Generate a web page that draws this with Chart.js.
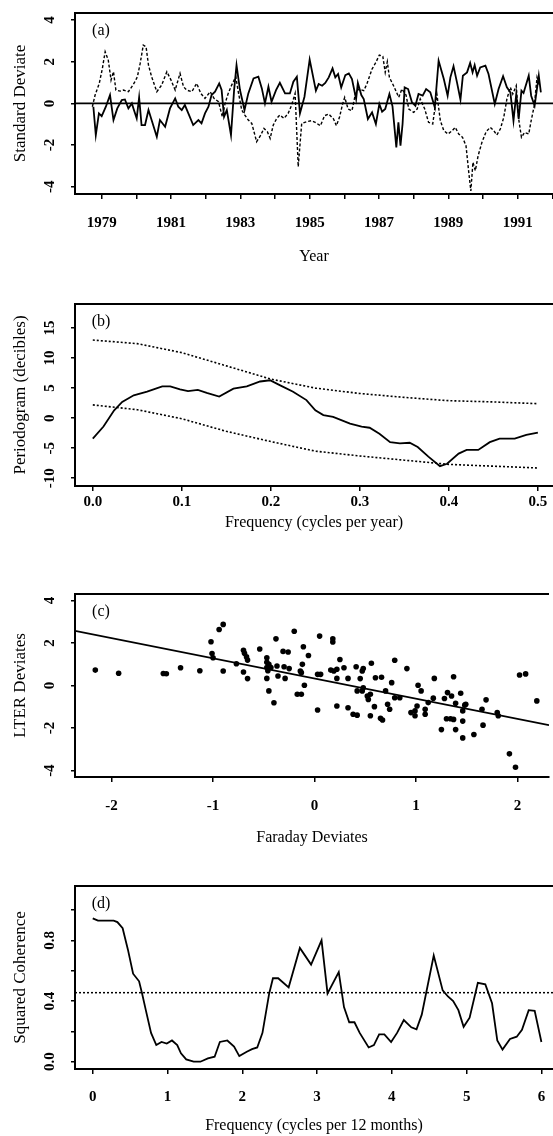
<!DOCTYPE html>
<html>
<head>
<meta charset="utf-8">
<script src="https://cdn.jsdelivr.net/npm/chart.js@4.4.1/dist/chart.umd.min.js"></script>
<style>
  html, body { margin: 0; padding: 0; background: #fff; }
  body { width: 553px; height: 1136px; position: relative; overflow: hidden; }
  .panel { position: absolute; left: 0; }
</style>
</head>
<body>
<div class="panel" style="top:0px"><canvas id="chartA" width="553" height="270"></canvas></div>
<div class="panel" style="top:290px"><canvas id="chartB" width="553" height="250"></canvas></div>
<div class="panel" style="top:560px"><canvas id="chartC" width="553" height="290"></canvas></div>
<div class="panel" style="top:860px"><canvas id="chartD" width="553" height="276"></canvas></div>
<script>
// (a) standard deviates, solid and dashed series
var aSolidYears = [1978.76,1978.83,1978.92,1979.00,1979.12,1979.24,1979.34,1979.45,1979.58,1979.67,1979.77,1979.87,1979.93,
  1980.01,1980.08,1980.15,1980.25,1980.35,1980.44,1980.59,1980.68,1980.83,1980.97,1981.12,1981.21,1981.31,1981.40,1981.50,
  1981.64,1981.79,1981.88,1981.98,1982.08,1982.17,1982.27,1982.39,1982.46,1982.53,1982.61,1982.73,1982.82,1982.89,1982.99,
  1983.12,1983.23,1983.38,1983.52,1983.62,1983.71,1983.81,1983.90,1984.03,1984.14,1984.29,1984.43,1984.53,1984.63,1984.72,
  1984.85,1985.00,1985.18,1985.26,1985.36,1985.45,1985.55,1985.66,1985.74,1985.82,1985.91,1986.03,1986.13,1986.22,1986.34,
  1986.39,1986.49,1986.56,1986.68,1986.80,1986.91,1987.01,1987.09,1987.18,1987.30,1987.39,1987.50,1987.56,1987.62,1987.68,
  1987.74,1987.84,1987.95,1988.05,1988.14,1988.26,1988.36,1988.48,1988.61,1988.72,1988.87,1988.98,1989.06,1989.15,1989.25,
  1989.35,1989.42,1989.54,1989.63,1989.70,1989.76,1989.83,1989.92,1990.07,1990.16,1990.34,1990.45,1990.58,1990.69,1990.79,
  1990.88,1990.96,1991.03,1991.11,1991.17,1991.32,1991.39,1991.49,1991.61,1991.67];
var aSolidValues = [-0.16,-1.52,-0.48,-0.61,-0.16,0.40,-0.80,-0.24,0.16,0.19,-0.24,0.00,-0.32,
  -0.72,0.29,-1.04,-1.04,-0.32,-0.80,-1.60,-0.80,-1.12,-0.24,0.24,-0.16,-0.32,-0.08,-0.48,
  -1.04,-0.80,-0.96,-0.48,-0.16,0.40,0.56,0.96,0.64,-0.64,-0.32,-1.52,0.64,1.84,0.64,
  -0.32,0.48,1.20,1.28,0.72,0.00,0.80,0.08,0.64,0.99,0.48,0.48,1.04,1.28,-0.48,
  0.32,2.10,0.61,0.93,0.85,0.98,1.25,1.68,1.25,1.41,0.77,1.36,1.44,1.17,0.21,
  0.98,0.40,0.21,-0.75,-0.43,-0.99,-0.03,-0.40,-0.27,0.45,-0.14,-2.11,-0.91,-2.03,-0.99,
  0.77,0.69,0.05,-0.11,0.45,0.37,0.69,0.53,-0.19,2.05,1.17,0.37,1.25,1.78,1.01,
  0.18,1.33,1.49,1.94,1.49,1.84,1.33,1.73,1.81,1.41,-0.03,0.69,1.30,0.77,0.53,
  -0.83,0.45,-0.75,0.61,0.50,1.33,0.37,-0.11,1.33,0.53];
var aDashedYears = [1978.73,1978.81,1978.93,1979.02,1979.10,1979.19,1979.27,1979.34,1979.41,1979.53,1979.63,1979.77,1979.87,
  1979.96,1980.03,1980.11,1980.20,1980.28,1980.35,1980.44,1980.59,1980.73,1980.88,1981.00,1981.12,1981.26,1981.36,1981.45,
  1981.60,1981.74,1981.86,1981.98,1982.13,1982.24,1982.37,1982.48,1982.56,1982.65,1982.75,1982.87,1982.94,1983.04,1983.13,
  1983.23,1983.33,1983.47,1983.59,1983.68,1983.78,1983.86,1983.95,1984.05,1984.14,1984.26,1984.38,1984.48,1984.58,1984.67,
  1984.77,1984.91,1985.05,1985.16,1985.31,1985.43,1985.55,1985.69,1985.77,1985.86,1985.95,1986.01,1986.11,1986.22,1986.32,
  1986.41,1986.56,1986.65,1986.80,1986.91,1987.01,1987.11,1987.18,1987.24,1987.30,1987.42,1987.57,1987.66,1987.78,1987.86,
  1988.00,1988.10,1988.19,1988.32,1988.43,1988.55,1988.67,1988.77,1988.87,1988.99,1989.11,1989.20,1989.30,1989.41,1989.51,
  1989.59,1989.65,1989.71,1989.78,1989.86,1989.97,1990.09,1990.21,1990.31,1990.40,1990.50,1990.60,1990.69,1990.79,1990.86,
  1990.96,1991.03,1991.11,1991.20,1991.32,1991.39,1991.48,1991.56,1991.63];
var aDashedValues = [-0.16,0.40,0.96,1.68,2.48,2.08,1.12,1.52,0.64,0.59,0.64,0.56,0.80,
  1.04,1.28,1.92,2.80,2.72,1.84,1.28,0.56,0.88,1.52,1.12,0.64,1.44,0.80,0.64,
  0.56,0.96,0.48,0.24,0.56,0.24,0.08,-0.64,0.00,0.48,0.88,1.28,0.56,-0.32,-0.56,
  -0.80,-0.96,-1.84,-1.52,-1.20,-1.36,-1.68,-1.04,-0.72,-0.56,-0.72,-0.48,-0.08,0.48,-3.04,
  -0.96,-0.88,-0.83,-0.91,-1.07,-0.59,-0.51,-0.75,-1.07,-0.67,-0.03,0.29,-0.27,-0.35,0.45,
  0.69,0.61,0.93,1.65,1.97,2.32,2.26,1.49,2.00,1.25,0.85,0.29,0.69,0.40,-0.27,
  -0.43,-0.27,0.21,-0.27,-0.91,-0.99,0.45,-0.83,-1.31,-1.47,-1.31,-1.15,-1.47,-1.63,-2.03,
  -3.31,-4.20,-2.83,-3.23,-2.51,-1.87,-1.36,-1.15,-1.31,-1.52,-1.23,-0.67,0.21,0.77,0.45,
  0.85,-0.75,-1.63,-1.39,-1.47,-0.83,-0.11,1.25,0.85];
var aXTicks = [1979,1980,1981,1982,1983,1984,1985,1986,1987,1988,1989,1990,1991,1992];
var aXLabels = [1979,1981,1983,1985,1987,1989,1991];
var aYTicks = [-4,-2,0,2,4];

// (b) periodogram with confidence band
var bFreq = [0,0.012,0.024,0.033,0.046,0.061,0.078,0.087,0.098,0.107,0.118,0.128,0.142,0.158,0.173,
  0.188,0.199,0.21,0.225,0.24,0.25,0.259,0.27,0.289,0.302,0.311,0.322,0.334,0.345,0.356,
  0.365,0.377,0.39,0.398,0.411,0.42,0.433,0.446,0.457,0.474,0.487,0.5];
var bPeriodogram = [-3.4,-1.4,1.3,2.7,3.8,4.4,5.3,5.3,4.8,4.5,4.7,4.2,3.6,4.9,5.3,
  6.1,6.3,5.5,4.4,3.0,1.3,0.5,0.2,-0.9,-1.4,-1.6,-2.6,-4.0,-4.2,-4.1,
  -4.8,-6.4,-8.0,-7.6,-5.9,-5.3,-5.3,-4.0,-3.4,-3.4,-2.8,-2.4];
var bBandFreq = [0,0.05,0.1,0.15,0.2,0.25,0.3,0.35,0.4,0.45,0.5];
var bUpper = [13,12.4,10.9,8.7,6.5,5.0,4.1,3.45,2.9,2.7,2.4];
var bLower = [2.2,1.4,-0.1,-2.2,-3.9,-5.5,-6.3,-7.0,-7.7,-8.0,-8.3];
var bXTicks = [0,0.1,0.2,0.3,0.4,0.5];
var bYTicks = [-10,-5,0,5,10,15];

// (c) LTER vs Faraday deviates
var cFaraday = [-2.16,-1.93,-1.49,-1.46,-1.32,-1.13,-1.02,-1.01,-1.00,-0.94,-0.90,-0.90,-0.77,-0.70,-0.69,-0.70,
  -0.66,-0.67,-0.66,-0.54,-0.47,-0.47,-0.45,-0.43,-0.47,-0.46,-0.47,-0.45,-0.40,-0.38,-0.37,-0.36,
  -0.31,-0.26,-0.30,-0.29,-0.25,-0.20,-0.17,-0.13,-0.14,-0.12,-0.13,-0.11,-0.10,-0.06,
  0.03,0.06,0.03,0.05,0.18,0.18,0.16,0.19,0.22,0.22,0.22,0.25,0.29,0.33,0.33,0.38,0.42,0.41,
  0.45,0.47,0.48,0.42,0.47,0.48,0.52,0.53,0.55,0.56,0.55,0.60,0.59,0.65,0.67,0.66,0.70,0.72,
  0.74,0.76,0.79,0.79,0.84,0.91,0.95,0.99,0.99,1.01,1.02,1.05,1.09,1.09,1.12,1.17,1.18,1.25,
  1.28,1.31,1.35,1.30,1.34,1.37,1.37,1.39,1.39,1.44,1.46,1.48,1.46,1.46,1.49,1.57,1.65,1.66,
  1.69,1.80,1.81,1.92,1.98,2.02,2.08,2.19];
var cLter = [0.73,0.58,0.57,0.56,0.84,0.70,2.06,1.51,1.31,2.64,2.88,0.69,1.03,1.66,1.52,0.64,
  0.33,1.35,1.20,1.72,1.31,1.10,1.00,0.85,0.85,0.70,0.34,-0.25,-0.81,2.20,0.92,0.45,
  1.61,1.58,0.89,0.34,0.80,2.56,-0.41,-0.41,0.69,1.00,0.61,1.83,0.02,1.42,
  0.53,0.53,-1.15,2.33,2.20,2.05,0.73,0.69,0.77,0.34,-0.96,1.23,0.84,0.34,-1.04,-1.35,-1.39,0.89,
  0.33,0.69,0.80,-0.25,-0.25,-0.10,-0.49,-0.65,-0.41,1.05,-1.42,0.37,-0.99,-1.54,-1.62,0.39,-0.25,-0.88,
  -1.11,0.14,1.19,-0.57,-0.57,0.80,-1.27,-1.19,-1.42,-0.96,0.02,-0.25,-1.35,-1.11,-0.80,-0.59,0.34,-2.07,
  -0.61,-0.33,-0.49,-1.56,-1.56,-1.59,0.42,-0.83,-2.07,-0.36,-1.19,-0.92,-1.67,-2.46,-0.88,-2.30,-1.11,-1.86,
  -0.67,-1.27,-1.42,-3.21,-3.84,0.50,0.55,-0.72];
var cFitIntercept = 0.33;
var cFitSlope = -0.95;
var cXTicks = [-2,-1,0,1,2];
var cYTicks = [-4,-2,0,2,4];

// (d) squared coherence
var dFreq = [0,0.07,0.28,0.33,0.40,0.47,0.54,0.62,0.66,0.71,0.78,0.85,0.92,0.99,1.06,1.13,1.18,1.25,1.35,1.44,
  1.54,1.63,1.70,1.80,1.89,1.96,2.06,2.13,2.20,2.27,2.36,2.41,2.48,2.62,2.77,2.92,3.06,3.14,3.29,3.36,
  3.43,3.50,3.57,3.69,3.76,3.83,3.90,3.99,4.07,4.16,4.26,4.33,4.40,4.56,4.68,4.75,4.82,4.89,4.96,5.04,
  5.15,5.25,5.34,5.41,5.48,5.58,5.67,5.74,5.83,5.91,6.00];
var dCoherence = [0.945,0.93,0.93,0.92,0.88,0.74,0.58,0.53,0.45,0.34,0.19,0.11,0.13,0.12,0.14,0.11,0.055,0.015,0.0,0.0,
  0.022,0.033,0.13,0.14,0.10,0.037,0.066,0.083,0.094,0.19,0.45,0.55,0.55,0.49,0.75,0.64,0.80,0.45,0.59,0.36,
  0.26,0.26,0.19,0.094,0.11,0.18,0.18,0.13,0.19,0.275,0.227,0.214,0.31,0.70,0.47,0.43,0.40,0.34,0.23,0.29,
  0.52,0.51,0.385,0.14,0.08,0.15,0.165,0.21,0.34,0.335,0.13];
var dThreshold = 0.455;
var dXTicks = [0,1,2,3,4,5,6];
var dYTicks = [0,0.2,0.4,0.6,0.8,1.0];
var dYLabels = [0,0.4,0.8];

var SERIF = "'Liberation Serif', 'Times New Roman', serif";
Chart.defaults.color = '#000';
Chart.defaults.font.family = SERIF;

function pairs(xs, ys) {
  return xs.map(function (x, i) { return { x: x, y: ys[i] }; });
}

// top border + panel tag, the right edge of each frame is cut off by the page
var framePlugin = {
  id: 'frame',
  afterDatasetsDraw: function (chart, args, opts) {
    var a = chart.chartArea, ctx = chart.ctx;
    ctx.save();
    ctx.strokeStyle = '#000';
    ctx.lineWidth = 2;
    ctx.beginPath();
    ctx.moveTo(a.left, a.top);
    ctx.lineTo(a.right, a.top);
    ctx.stroke();
    ctx.font = '16px ' + SERIF;
    ctx.fillStyle = '#000';
    ctx.textAlign = 'center';
    ctx.textBaseline = 'middle';
    ctx.fillText(opts.tag, a.left + 26, a.top + 18);
    ctx.restore();
  }
};

function xAxis(min, max, ticks, fmt, title, height, pad, titlePad) {
  return {
    type: 'linear', position: 'bottom', min: min, max: max,
    afterBuildTicks: function (s) { s.ticks = ticks.map(function (v) { return { value: v }; }); },
    afterFit: function (s) { s.height = height; s.paddingLeft = 0; s.paddingRight = 0; },
    border: { display: true, color: '#000', width: 2 },
    grid: { drawOnChartArea: false, drawTicks: true, tickLength: 5, color: '#000', lineWidth: 1.5 },
    ticks: { autoSkip: false, minRotation: 0, maxRotation: 0, padding: pad,
             font: { size: 15, weight: 'bold' }, callback: fmt },
    title: { display: true, text: title, font: { size: 16 }, padding: { top: 0, bottom: titlePad } }
  };
}

function yAxis(min, max, ticks, fmt, title, pad) {
  return {
    type: 'linear', position: 'left', min: min, max: max,
    afterBuildTicks: function (s) { s.ticks = ticks.map(function (v) { return { value: v }; }); },
    afterFit: function (s) { s.width = 75; s.paddingTop = 0; s.paddingBottom = 0; },
    border: { display: true, color: '#000', width: 2 },
    grid: { drawOnChartArea: false, drawTicks: true, tickLength: 4, color: '#000', lineWidth: 1.5 },
    ticks: { autoSkip: false, minRotation: 90, maxRotation: 90, crossAlign: 'center', padding: pad,
             font: { size: 15, weight: 'bold' }, callback: fmt },
    title: { display: true, text: title, font: { size: 17 }, padding: { top: 10, bottom: 0 } }
  };
}

function baseOptions(top, tag, xs, ys) {
  return {
    responsive: false,
    animation: false,
    devicePixelRatio: 1,
    layout: { padding: { top: top, left: 0, right: 0, bottom: 0 } },
    plugins: { legend: { display: false }, tooltip: { enabled: false }, frame: { tag: tag } },
    elements: { point: { radius: 0 }, line: { tension: 0 } },
    scales: { x: xs, y: ys }
  };
}

// (a)
var aXMin = 1978.23, aXMax = 1992.02;
new Chart(document.getElementById('chartA').getContext('2d'), {
  type: 'line',
  data: {
    datasets: [
      { data: [{ x: aXMin, y: 0 }, { x: aXMax, y: 0 }], borderColor: '#000', borderWidth: 1.8 },
      { data: pairs(aDashedYears, aDashedValues), borderColor: '#000', borderWidth: 1.4, borderDash: [3, 2] },
      { data: pairs(aSolidYears, aSolidValues), borderColor: '#000', borderWidth: 1.8 }
    ]
  },
  options: baseOptions(13, '(a)',
    xAxis(aXMin, aXMax, aXTicks, function (v) { return aXLabels.indexOf(v) >= 0 ? String(v) : ''; }, 'Year', 76, 15, 4),
    yAxis(-4.35, 4.34, aYTicks, function (v) { return String(v); }, 'Standard Deviate', 14.5)),
  plugins: [framePlugin]
});

// (b)
new Chart(document.getElementById('chartB').getContext('2d'), {
  type: 'line',
  data: {
    datasets: [
      { data: pairs(bBandFreq, bUpper), borderColor: '#000', borderWidth: 1.6, borderDash: [2, 2] },
      { data: pairs(bBandFreq, bLower), borderColor: '#000', borderWidth: 1.6, borderDash: [2, 2] },
      { data: pairs(bFreq, bPeriodogram), borderColor: '#000', borderWidth: 1.8 }
    ]
  },
  options: baseOptions(14, '(b)',
    xAxis(-0.020, 0.517, bXTicks, function (v) { return v.toFixed(1); }, 'Frequency (cycles per year)', 54, 2, 8),
    yAxis(-11.3, 19, bYTicks, function (v) { return String(v); }, 'Periodogram (decibles)', 11)),
  plugins: [framePlugin]
});

// (c)
var cXMin = -2.36, cXMax = 2.31;
new Chart(document.getElementById('chartC').getContext('2d'), {
  type: 'scatter',
  data: {
    datasets: [
      { data: pairs(cFaraday, cLter), pointRadius: 2.8, backgroundColor: '#000', borderWidth: 0 },
      { data: [{ x: cXMin, y: cFitIntercept + cFitSlope * cXMin }, { x: cXMax, y: cFitIntercept + cFitSlope * cXMax }],
        showLine: true, pointRadius: 0, borderColor: '#000', borderWidth: 1.8 }
    ]
  },
  options: baseOptions(34, '(c)',
    xAxis(cXMin, cXMax, cXTicks, function (v) { return String(v); }, 'Faraday Deviates', 73, 15, 3),
    yAxis(-4.3, 4.31, cYTicks, function (v) { return String(v); }, 'LTER Deviates', 14.5)),
  plugins: [framePlugin]
});

// (d)
var dXMin = -0.237, dXMax = 6.155;
new Chart(document.getElementById('chartD').getContext('2d'), {
  type: 'line',
  data: {
    datasets: [
      { data: [{ x: dXMin, y: dThreshold }, { x: dXMax, y: dThreshold }], borderColor: '#000', borderWidth: 1.5, borderDash: [2, 2] },
      { data: pairs(dFreq, dCoherence), borderColor: '#000', borderWidth: 1.8 }
    ]
  },
  options: baseOptions(26, '(d)',
    xAxis(dXMin, dXMax, dXTicks, function (v) { return String(v); }, 'Frequency (cycles per 12 months)', 67, 14, 1),
    yAxis(-0.048, 1.158, dYTicks, function (v) { return dYLabels.indexOf(v) >= 0 ? v.toFixed(1) : ''; }, 'Squared Coherence', 11.5)),
  plugins: [framePlugin]
});
</script>
</body>
</html>
